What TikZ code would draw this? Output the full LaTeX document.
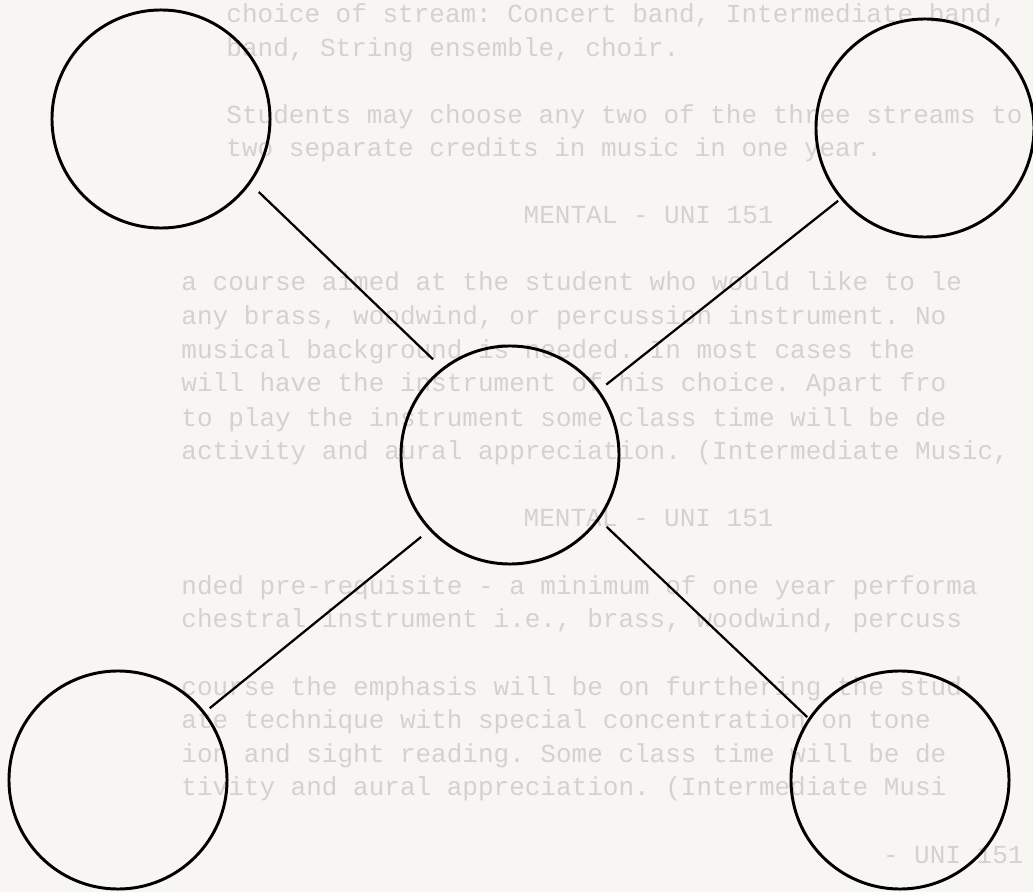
\documentclass[tikz,border=0pt]{standalone}
\usepackage{fontspec}
\setmonofont{Liberation Mono}
\usepackage{tikz}
\usepackage{xcolor}

\definecolor{paper}{HTML}{F8F6F3}
\definecolor{faint}{HTML}{D4D2CF}

\begin{document}
\begin{tikzpicture}[x=0.025cm, y=-0.025cm,
  every node/.style={circle, draw=black, line width=2.1pt, inner sep=0pt, minimum size=5.45cm},
  link/.style={line width=1.6pt},
  bleed/.style={draw=none, rectangle, minimum size=0pt, inner sep=0pt, text=faint,
    font=\ttfamily\fontsize{18.5}{20}\selectfont}]

% page
\fill[paper] (0,0) rectangle (1033,892);
\useasboundingbox (0,0) rectangle (1033,892);

% faded typing behind the sketch
\begin{scope}
  \clip (0,0) rectangle (1033,892);
  \node[bleed, anchor=base west] (t0) at (225,23) {choice of stream: Concert band, Intermediate band,};
  \node[bleed, anchor=base west] (t1) at (225,57) {band, String ensemble, choir.};
  \node[bleed, anchor=base west] (t2) at (225,124) {Students may choose any two of the three streams to};
  \node[bleed, anchor=base west] (t3) at (225,157) {two separate credits in music in one year.};
  \node[bleed, anchor=base east] (t4) at (775,224) {MENTAL - UNI 151};
  \node[bleed, anchor=base west] (t5) at (180,291) {a course aimed at the student who would like to le};
  \node[bleed, anchor=base west] (t6) at (180,325) {any brass, woodwind, or percussion instrument. No};
  \node[bleed, anchor=base west] (t7) at (180,358) {musical background is needed. In most cases the};
  \node[bleed, anchor=base west] (t8) at (180,392) {will have the instrument of his choice. Apart fro};
  \node[bleed, anchor=base west] (t9) at (180,426) {to play the instrument some class time will be de};
  \node[bleed, anchor=base west] (t10) at (180,459) {activity and aural appreciation. (Intermediate Music,};
  \node[bleed, anchor=base east] (t11) at (775,526) {MENTAL - UNI 151};
  \node[bleed, anchor=base west] (t12) at (180,594) {nded pre-requisite - a minimum of one year performa};
  \node[bleed, anchor=base west] (t13) at (180,627) {chestral instrument i.e., brass, woodwind, percuss};
  \node[bleed, anchor=base west] (t14) at (180,695) {course the emphasis will be on furthering the stud};
  \node[bleed, anchor=base west] (t15) at (180,728) {ate technique with special concentration on tone};
  \node[bleed, anchor=base west] (t16) at (180,762) {ion and sight reading. Some class time will be de};
  \node[bleed, anchor=base west] (t17) at (180,795) {tivity and aural appreciation. (Intermediate Musi};
  \node[bleed, anchor=base east] (t18) at (1025,863) {- UNI 151};
\end{scope}

% the five rings
\node (tl) at (161,119) {};
\node (tr) at (925,128) {};
\node (mid) at (510,455) {};
\node (bl) at (118,780) {};
\node (br) at (900,780) {};

% spokes, each stopping a little short of its rings
\draw[link, shorten <=0.29cm, shorten >=0.31cm] (tl.-36) -- (mid.128);
\draw[link, shorten <=0.07cm, shorten >=0.22cm] (tr.-140) -- (mid.36);
\draw[link, shorten <=0.26cm, shorten >=0.15cm] (mid.-137) -- (bl.38);
\draw[link, shorten <=0.25cm, shorten >=0.04cm] (mid.-36) -- (br.146);

\end{tikzpicture}
\end{document}
